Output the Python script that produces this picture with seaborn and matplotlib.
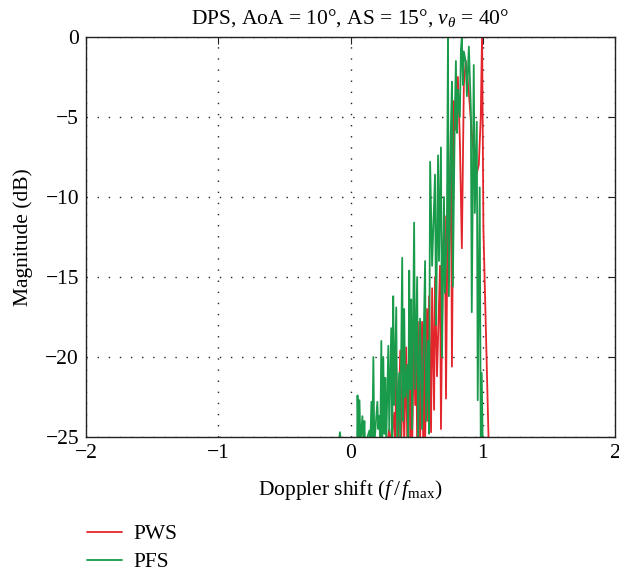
import numpy as np
import pandas as pd
import seaborn as sns
import matplotlib.pyplot as plt

# Doppler shift (f/fmax) and magnitude (dB)
pfs_x = [-0.15, -0.09, -0.08, -0.07, 0.0, 0.05, 0.053, 0.06, 0.068, 0.075, 0.09, 0.098, 0.105,
         0.11, 0.143, 0.15, 0.158, 0.165, 0.173, 0.18, 0.203, 0.21, 0.218, 0.225, 0.233,
         0.24, 0.248, 0.256, 0.263, 0.27, 0.286, 0.293, 0.308, 0.316, 0.323, 0.331, 0.346,
         0.353, 0.368, 0.376, 0.391, 0.398, 0.406, 0.414, 0.429, 0.436, 0.444, 0.451, 0.459,
         0.466, 0.481, 0.489, 0.504, 0.511, 0.526, 0.541, 0.564, 0.571, 0.586, 0.594, 0.602,
         0.617, 0.639, 0.647, 0.662, 0.669, 0.684, 0.692, 0.707, 0.714, 0.729, 0.737, 0.744,
         0.759, 0.767, 0.774, 0.789, 0.797, 0.805, 0.812, 0.827, 0.835, 0.842, 0.85, 0.857,
         0.872, 0.88, 0.895, 0.91, 0.917, 0.932, 0.94, 0.955, 0.962, 0.977, 0.985, 0.992,
         1.0, 1.1]
pfs_db = [-25.5, -25.5, -24.7, -25.5, -25.5, -25.5, -22.4, -25.5, -22.7, -25.5, -23.7, -25.5, -24.0,
          -25.5, -24.6, -25.5, -22.8, -25.3, -20.0, -25.5, -22.8, -24.5, -23.7, -25.5, -19.0,
          -25.5, -20.0, -24.8, -21.3, -25.5, -19.3, -24.6, -18.2, -25.5, -16.2, -23.0, -16.9,
          -25.5, -21.0, -25.5, -13.8, -24.0, -17.0, -22.5, -20.5, -25.5, -14.6, -22.0, -16.4,
          -24.5, -11.6, -22.0, -15.0, -25.5, -17.6, -24.5, -14.0, -24.0, -19.0, -24.8, -7.8,
          -14.3, -8.6, -18.0, -7.4, -14.0, -6.9, -20.0, -10.0, -16.0, -12.0, -0.1, -16.2,
          -5.8, -2.8, -15.6, -4.7, -1.5, -6.0, -3.3, -5.0, -0.75, 0.0, -3.0, -0.9,
          -1.6, -3.7, -0.6, -4.5, -17.2, -1.75, -11.0, -5.3, -22.7, -9.4, -25.5, -21.0,
          -25.5, -25.5]

pws_x = [0.278, 0.293, 0.308, 0.331, 0.338, 0.346, 0.361, 0.376, 0.383, 0.398, 0.406, 0.421,
         0.429, 0.444, 0.451, 0.459, 0.466, 0.481, 0.489, 0.496, 0.504, 0.519, 0.526, 0.541,
         0.549, 0.556, 0.564, 0.579, 0.586, 0.594, 0.609, 0.617, 0.632, 0.639, 0.654, 0.677,
         0.684, 0.699, 0.714, 0.722, 0.737, 0.744, 0.759, 0.767, 0.782, 0.797, 0.812, 0.827,
         0.842, 0.857, 0.872, 0.895, 0.917, 0.94, 0.955, 0.97, 0.985, 0.995, 1.005, 1.045]
pws_db = [-25.5, -24.5, -25.5, -23.5, -25.5, -20.6, -25.5, -19.6, -25.5, -20.5, -25.5, -19.4,
          -25.5, -19.0, -25.0, -19.3, -25.5, -18.6, -23.0, -18.4, -25.5, -17.8, -25.5, -17.8,
          -25.0, -18.5, -25.5, -17.0, -24.0, -16.2, -24.7, -15.7, -23.3, -15.0, -21.2, -14.3,
          -24.5, -13.0, -11.2, -22.6, -9.0, -14.5, -6.0, -20.6, -4.0, -5.8, -2.5, -6.5,
          -13.2, -3.0, -1.5, -3.5, -6.0, -8.0, -8.5, -8.0, -5.0, 0.3, -12.0, -25.5]

df = pd.concat([
    pd.DataFrame({'f': pws_x, 'mag': pws_db, 'series': 'PWS'}),
    pd.DataFrame({'f': pfs_x, 'mag': pfs_db, 'series': 'PFS'}),
])

sns.set_theme(style='white')
plt.rcParams['font.family'] = ['Liberation Serif', 'DejaVu Serif']
plt.rcParams['mathtext.fontset'] = 'custom'
plt.rcParams['mathtext.rm'] = 'Liberation Serif'
plt.rcParams['mathtext.it'] = 'Liberation Serif:italic'
plt.rcParams['axes.unicode_minus'] = True
for key in ['text.color', 'axes.labelcolor', 'xtick.color', 'ytick.color']:
    plt.rcParams[key] = 'black'

fs = 15.5
fig = plt.figure(figsize=(6.19, 5.74), dpi=100)
ax = fig.add_axes([86 / 619, 1 - 437 / 574, 529 / 619, 400 / 574])

sns.lineplot(data=df, x='f', y='mag', hue='series', sort=False, estimator=None,
             palette={'PWS': '#e3262b', 'PFS': '#1a9b4b'}, linewidth=1.3, ax=ax)

ax.set_xlim(-2, 2)
ax.set_ylim(-25, 0)
ax.set_xticks([-2, -1, 0, 1, 2])
ax.set_yticks([0, -5, -10, -15, -20, -25])
ax.grid(True, color='#222222', linestyle=(0, (1, 7)), linewidth=1.0)
ax.tick_params(direction='in', length=5, width=0.8, labelsize=fs, color='#222222',
               top=True, right=True, pad=5)
for s in ax.spines.values():
    s.set_color('#222222')
    s.set_linewidth(1.0)

ax.set_title(r'DPS, AoA = 10°, AS = 15°, $\nu_\theta$ = 40°', fontsize=fs, pad=10)
ax.set_xlabel(r'Doppler shift ($f\,/\,f_{\rm max}$)', fontsize=fs, labelpad=11)
ax.set_ylabel('Magnitude (dB)', fontsize=fs, labelpad=9)

handles, labels = ax.get_legend_handles_labels()
ax.legend(handles, labels, loc='upper left', bbox_to_anchor=(68 / 619, 1 - 505 / 574),
          bbox_transform=fig.transFigure, frameon=False, fontsize=fs,
          handlelength=1.6, handletextpad=0.56, labelspacing=0.35)

fig.savefig('out.png', dpi=100)
